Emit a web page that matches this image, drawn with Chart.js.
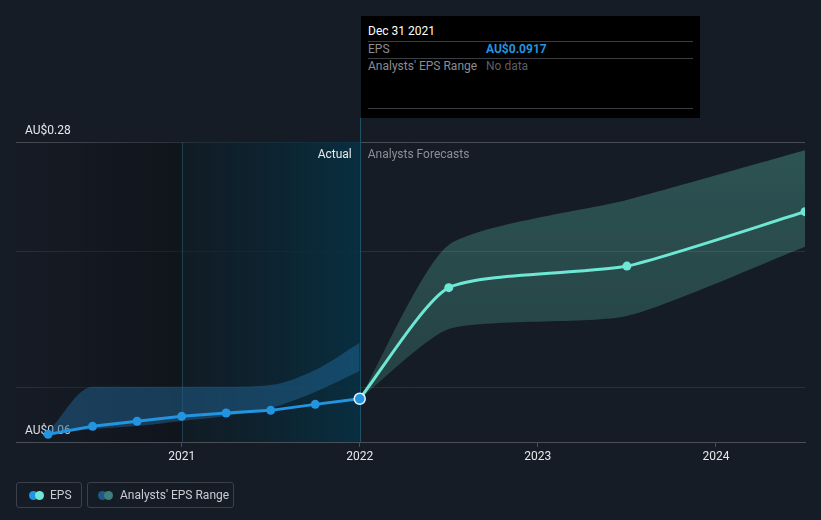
<!DOCTYPE html>
<html>
<head>
<meta charset="utf-8">
<script src="https://cdn.jsdelivr.net/npm/chart.js@4/dist/chart.umd.min.js"></script>
<style>
  html, body { margin:0; padding:0; background:#161c26; }
  body { width:821px; height:520px; position:relative; overflow:hidden; font-family: Roboto, "Noto Sans", sans-serif; }
  #wrap { position:absolute; left:0; top:0; width:821px; height:520px; }
  #tip { position:absolute; left:361px; top:16px; width:339px; height:102px; background:#000; color:#fff; font-size:12px; }
  #tip .t { position:absolute; left:7px; top:8px; color:#fff; }
  #tip .hr { position:absolute; left:7px; right:7px; height:1px; background:#3a3d42; }
  #tip .lab { position:absolute; left:7px; color:#8a8d92; }
  #tip .val { position:absolute; left:125px; }
  .leg { position:absolute; top:482px; height:26px; border:1px solid #3b414b; border-radius:3px; box-sizing:border-box; color:#c9ccd1; font-size:12px; line-height:24px; }
  .dot { position:absolute; top:8px; width:9px; height:9px; border-radius:50%; }
</style>
</head>
<body>
<div id="wrap"><canvas id="c" width="821" height="520"></canvas></div>
<div id="tip">
  <div class="t">Dec 31 2021</div>
  <div class="hr" style="top:25px"></div>
  <div class="lab" style="top:26px">EPS</div>
  <div class="val" style="top:26px;color:#2394df;font-weight:bold">AU$0.0917</div>
  <div class="hr" style="top:42px"></div>
  <div class="lab" style="top:43px">Analysts' EPS Range</div>
  <div class="val" style="top:43px;color:#5c5f64">No data</div>
  <div class="hr" style="top:92px"></div>
</div>
<div class="leg" style="left:16px;width:66px;">
  <span class="dot" style="left:12px;background:#2394df"></span>
  <span class="dot" style="left:18px;background:#6ee7d4"></span>
  <span style="position:absolute;left:33px">EPS</span>
</div>
<div class="leg" style="left:87px;width:147px;">
  <span class="dot" style="left:10px;background:#1f5a85"></span>
  <span class="dot" style="left:16px;background:#3d7f7a"></span>
  <span style="position:absolute;left:32px">Analysts' EPS Range</span>
</div>
<script>
// ---- data ----
const pastDates = [2020.25, 2020.5, 2020.75, 2021.0, 2021.25, 2021.5, 2021.75, 2022.0];
const pastEps   = [0.0656, 0.0715, 0.0752, 0.0788, 0.0813, 0.0832, 0.0876, 0.0917];
const pastRangeHigh = [0.0673, 0.1005, 0.1005, 0.1005, 0.1005, 0.1018, 0.1128, 0.1328];
const pastRangeLow  = [0.0659, 0.0695, 0.0717, 0.0754, 0.0790, 0.0850, 0.0967, 0.1120];
const fcDates = [2022.0, 2022.5, 2023.5, 2024.5];
const fcEps   = [0.0917, 0.1732, 0.1890, 0.2289];
const fcHigh  = [0.0917, 0.2045, 0.2375, 0.2740];
const fcLow   = [0.0917, 0.1429, 0.1524, 0.2032];
const yTicks = [0.06, 0.10, 0.20, 0.28];
const yLabels = {0.06: 'AU$0.06', 0.28: 'AU$0.28'};
const xTicks = [2021, 2022, 2023, 2024];
const xMin = 2020.07, xMax = 2024.5, yMin = 0.06, yMax = 0.28;
const actualStart = 2021, todayX = 2022;

const pts = (xs, ys) => xs.map((x, i) => ({x, y: ys[i]}));

const bgPlugin = {
  id: 'bg',
  beforeDatasetsDraw(chart) {
    const {ctx, chartArea: a, scales: {x}} = chart;
    const x1 = x.getPixelForValue(actualStart), x2 = x.getPixelForValue(todayX);
    ctx.save();
    let g = ctx.createLinearGradient(a.left, 0, x1, 0);
    g.addColorStop(0, 'rgba(10,12,16,0)');
    g.addColorStop(1, 'rgba(10,12,16,0.45)');
    ctx.fillStyle = g; ctx.fillRect(a.left, a.top, x1 - a.left, a.bottom - a.top);
    g = ctx.createLinearGradient(x1, 0, x2, 0);
    g.addColorStop(0, 'rgba(14,28,36,0.6)');
    g.addColorStop(1, 'rgba(8,48,66,0.95)');
    ctx.fillStyle = g; ctx.fillRect(x1, a.top, x2 - x1, a.bottom - a.top);
    ctx.strokeStyle = 'rgba(40,90,105,0.55)'; ctx.lineWidth = 1;
    ctx.beginPath(); ctx.moveTo(Math.round(x1) + 0.5, a.top); ctx.lineTo(Math.round(x1) + 0.5, a.bottom); ctx.stroke();
    ctx.strokeStyle = '#1d5268';
    ctx.beginPath(); ctx.moveTo(Math.round(x2) + 0.5, 118); ctx.lineTo(Math.round(x2) + 0.5, a.bottom); ctx.stroke();
    ctx.font = '12px Roboto, sans-serif'; ctx.textBaseline = 'middle';
    ctx.fillStyle = '#e8eaec'; ctx.textAlign = 'right'; ctx.fillText('Actual', x2 - 8, a.top + 13);
    ctx.fillStyle = '#8b8f95'; ctx.textAlign = 'left'; ctx.fillText('Analysts Forecasts', x2 + 8, a.top + 13);
    ctx.restore();
  }
};

const ctx = document.getElementById('c').getContext('2d');
const bandGrad = ctx.createLinearGradient(0, 142, 0, 442);
bandGrad.addColorStop(0, 'rgba(86,182,163,0.36)');
bandGrad.addColorStop(1, 'rgba(86,182,163,0.22)');

const fcTension = 0.2;

new Chart(ctx, {
  type: 'line',
  data: {
    datasets: [
      { data: pts(pastDates, pastRangeHigh), borderWidth: 0, pointRadius: 0, fill: false, cubicInterpolationMode: 'monotone', order: 5 },
      { data: pts(pastDates, pastRangeLow), borderWidth: 0, pointRadius: 0, fill: '-1', backgroundColor: 'rgba(35,108,160,0.45)', cubicInterpolationMode: 'monotone', order: 5 },
      { data: pts(fcDates, fcHigh), borderWidth: 0, pointRadius: 0, fill: false, tension: fcTension, order: 5 },
      { data: pts(fcDates, fcLow), borderWidth: 0, pointRadius: 0, fill: '-1', backgroundColor: bandGrad, tension: fcTension, order: 5 },
      { data: pts(fcDates, fcEps), borderColor: '#6ee7d4', backgroundColor: '#6ee7d4', borderWidth: 3,
        pointRadius: fcDates.map((d, i) => i === 0 ? 0 : 4.5), pointBorderWidth: 0, tension: fcTension, order: 2 },
      { data: pts(pastDates, pastEps), borderColor: '#2394df', backgroundColor: '#2394df', borderWidth: 3, tension: 0,
        pointRadius: pastDates.map((d, i) => i === pastDates.length - 1 ? 5.5 : 4.5),
        pointBorderColor: pastDates.map((d, i) => i === pastDates.length - 1 ? '#e6f3fb' : '#2394df'),
        pointBorderWidth: pastDates.map((d, i) => i === pastDates.length - 1 ? 1.5 : 0), order: 1 }
    ]
  },
  options: {
    responsive: false, animation: false,
    layout: { padding: { left: 16, right: 16, top: 142, bottom: 0 } },
    plugins: { legend: { display: false }, tooltip: { enabled: false } },
    scales: {
      x: {
        type: 'linear', min: xMin, max: xMax,
        afterBuildTicks: s => { s.ticks = xTicks.map(v => ({value: v})); },
        afterFit: s => { s.height = 78; },
        ticks: { color: '#e6e8eb', font: { family: 'Roboto', size: 12 }, padding: 3, maxRotation: 0, callback: v => String(v) },
        grid: { drawOnChartArea: false, color: '#4a4f57', tickLength: 5 },
        border: { color: '#4a4f57', width: 1 }
      },
      y: {
        type: 'linear', min: yMin, max: yMax,
        afterBuildTicks: s => { s.ticks = yTicks.map(v => ({value: v})); },
        afterFit: s => { s.width = 0; },
        ticks: { mirror: true, padding: 9, labelOffset: -11, color: '#e6e8eb', font: { family: 'Roboto', size: 12 },
          callback: v => yLabels[Math.round(v * 100) / 100] || '' },
        grid: { drawTicks: false, color: c => (c.tick && Math.abs(c.tick.value - yMax) < 1e-9) ? '#474c55' : '#2a2f38' },
        border: { display: false }
      }
    }
  },
  plugins: [bgPlugin]
});
</script>
</body>
</html>
